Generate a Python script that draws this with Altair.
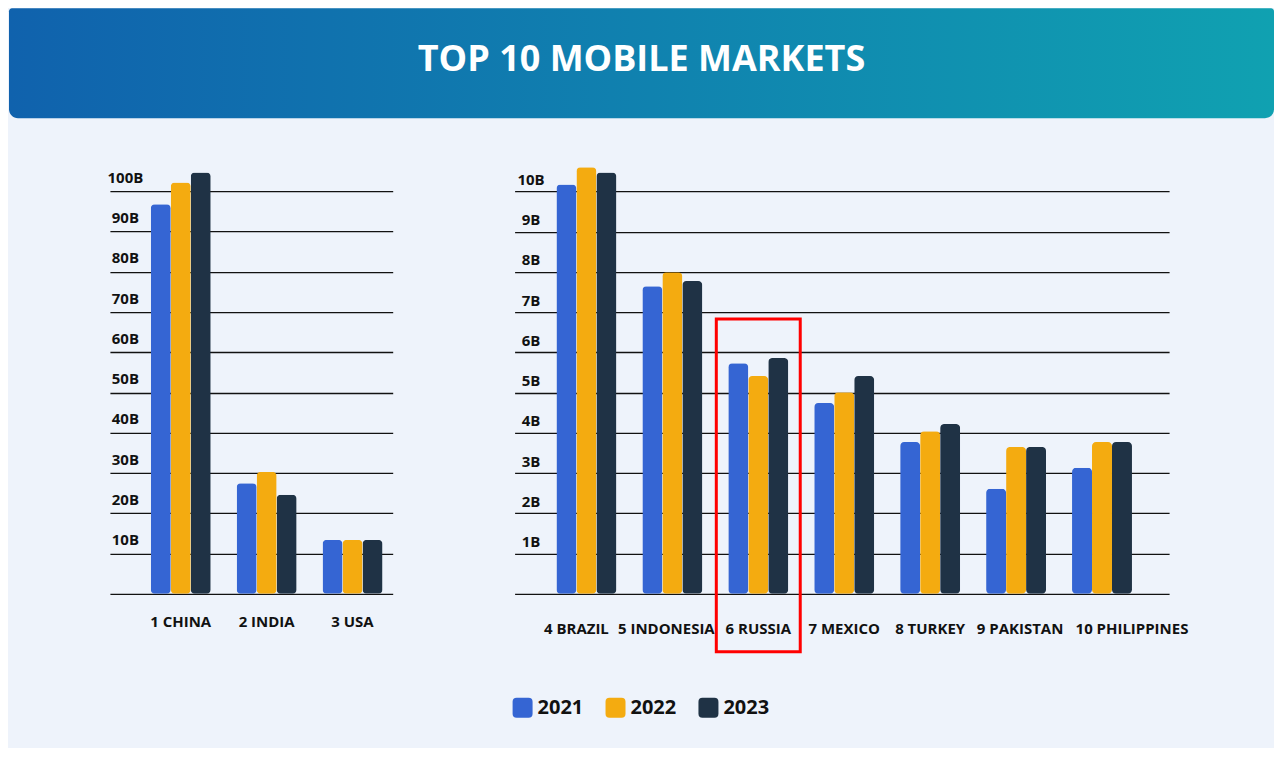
import altair as alt
import pandas as pd

TITLE = "TOP 10 MOBILE MARKETS"
YEARS = ["2021", "2022", "2023"]
COLORS = ["#3565D3", "#F4AB10", "#1F3245"]

LEFT_COUNTRIES = ["1 CHINA", "2 INDIA", "3 USA"]
LEFT_2021 = [96.8, 27.5, 13.4]
LEFT_2022 = [102.2, 30.3, 13.4]
LEFT_2023 = [104.7, 24.6, 13.4]
LEFT_TICKS = [0, 10, 20, 30, 40, 50, 60, 70, 80, 90, 100]

RIGHT_COUNTRIES = ["4 BRAZIL", "5 INDONESIA", "6 RUSSIA", "7 MEXICO",
                   "8 TURKEY", "9 PAKISTAN", "10 PHILIPPINES"]
RIGHT_2021 = [10.17, 7.64, 5.73, 4.74, 3.77, 2.61, 3.13]
RIGHT_2022 = [10.60, 7.99, 5.41, 5.01, 4.04, 3.65, 3.77]
RIGHT_2023 = [10.47, 7.77, 5.86, 5.41, 4.22, 3.65, 3.77]
RIGHT_TICKS = [0, 1, 2, 3, 4, 5, 6, 7, 8, 9, 10]

HIGHLIGHT = ["6 RUSSIA"]
HIGHLIGHT_TOP = [6.83]
HIGHLIGHT_BOTTOM = [-1.44]

FONT = "Open Sans"
INK = "#111111"
BG = "#EEF3FB"


def long_table(countries, series):
    rows = []
    for year, vals in zip(YEARS, series):
        for c, v in zip(countries, vals):
            rows.append({"country": c, "year": year, "value": v})
    return pd.DataFrame(rows)


left_df = long_table(LEFT_COUNTRIES, [LEFT_2021, LEFT_2022, LEFT_2023])
right_df = long_table(RIGHT_COUNTRIES, [RIGHT_2021, RIGHT_2022, RIGHT_2023])
hl_df = pd.DataFrame({"country": HIGHLIGHT, "top": HIGHLIGHT_TOP, "bottom": HIGHLIGHT_BOTTOM})
title_df = pd.DataFrame({"t": [TITLE]})

ROUND_SQUARE = ("M-1,-0.6 Q-1,-1 -0.6,-1 L0.6,-1 Q1,-1 1,-0.6 L1,0.6 "
                "Q1,1 0.6,1 L-0.6,1 Q-1,1 -1,0.6 Z")

legend = alt.Legend(
    title=None, orient="none", legendX=504, legendY=690, direction="horizontal",
    symbolType=ROUND_SQUARE, symbolSize=400, symbolStrokeWidth=0, symbolOpacity=1,
    labelFont=FONT, labelFontSize=20, labelFontWeight="bold", labelColor=INK,
    labelOffset=5, columnPadding=22,
)
color = alt.Color("year:N", sort=YEARS, scale=alt.Scale(domain=YEARS, range=COLORS), legend=legend)


def y_axis(values, pad, off):
    return alt.Axis(
        values=values, title=None, domain=False, ticks=False, tickSize=0,
        grid=True, gridColor=INK, gridWidth=1.3,
        labelExpr="datum.value == 0 ? '' : datum.value + 'B'",
        labelAlign="center", labelBaseline="middle", labelPadding=pad, labelOffset=off,
        labelFont=FONT, labelFontSize=15, labelFontWeight="bold", labelColor=INK,
    )


def x_axis(pad, offset=None):
    kw = dict(
        title=None, domain=False, ticks=False, tickSize=0, labelAngle=0,
        labelBaseline="middle", labelPadding=pad, labelOverlap=False,
        labelFont=FONT, labelFontSize=15, labelFontWeight="bold", labelColor=INK,
    )
    if offset is not None:
        kw["labelOffset"] = offset
    return alt.Axis(**kw)


right_label_shift = {
    "condition": [
        {"test": "datum.value == '10 PHILIPPINES'", "value": 30},
        {"test": "datum.value == '4 BRAZIL'", "value": -10},
        {"test": "datum.value == '5 INDONESIA'", "value": -6},
        {"test": "datum.value == '9 PAKISTAN'", "value": 4},
    ],
    "value": 0,
}

left = alt.Chart(left_df).mark_bar(cornerRadius=4).encode(
    x=alt.X("country:N", sort=LEFT_COUNTRIES,
            scale=alt.Scale(paddingInner=0.302, paddingOuter=0.297, align=0.8),
            axis=x_axis(28)),
    xOffset=alt.XOffset("year:N", sort=YEARS),
    y=alt.Y("value:Q", scale=alt.Scale(domain=[0, 108], nice=False), axis=y_axis(LEFT_TICKS, -15, -14)),
    color=color,
).properties(width=283, height=435)

right_bars = alt.Chart(right_df).mark_bar(cornerRadius=4).encode(
    x=alt.X("country:N", sort=RIGHT_COUNTRIES,
            scale=alt.Scale(paddingInner=0.302, paddingOuter=0.459, align=0.53),
            axis=x_axis(35, right_label_shift)),
    xOffset=alt.XOffset("year:N", sort=YEARS),
    y=alt.Y("value:Q", scale=alt.Scale(domain=[0, 10.8], nice=False), axis=y_axis(RIGHT_TICKS, -16, -12)),
    color=color,
)
right_box = alt.Chart(hl_df).mark_bar(width=84, fillOpacity=0, stroke="#FF0000", strokeWidth=3).encode(
    x=alt.X("country:N", sort=RIGHT_COUNTRIES),
    y=alt.Y("top:Q"),
    y2="bottom:Q",
)
right = alt.layer(right_bars, right_box).properties(width=655, height=435)

banner_rect = alt.Chart(title_df).mark_rect(
    color=alt.LinearGradient(
        gradient="linear",
        stops=[alt.GradientStop(color="#1062AD", offset=0), alt.GradientStop(color="#10A1B1", offset=1)],
        x1=0, x2=1, y1=0, y2=0,
    ),
    cornerRadiusBottomLeft=9, cornerRadiusBottomRight=9, cornerRadiusTopLeft=3, cornerRadiusTopRight=3,
).encode(x=alt.value(0), x2=alt.value(1266), y=alt.value(0), y2=alt.value(110))
banner_text = alt.Chart(title_df).mark_text(
    font=FONT, fontSize=36, fontWeight="bold", color="white", align="center", baseline="middle"
).encode(x=alt.value(633), y=alt.value(52), text="t:N")
banner = alt.layer(banner_rect, banner_text).properties(width=1266, height=110)

spacer = alt.Chart(title_df).mark_point(opacity=0, size=1).encode(
    x=alt.value(0), y=alt.value(0)
).properties(width=1, height=1)

body = alt.hconcat(spacer, alt.hconcat(left, right, spacing=122), spacing=97)

chart = alt.vconcat(banner, body, spacing=40).properties(
    background=BG, padding={"left": 0, "top": 0, "right": 0, "bottom": 30}
).configure_view(stroke=None)

chart.save("out.html", embed_options={"renderer": "svg", "actions": False})
